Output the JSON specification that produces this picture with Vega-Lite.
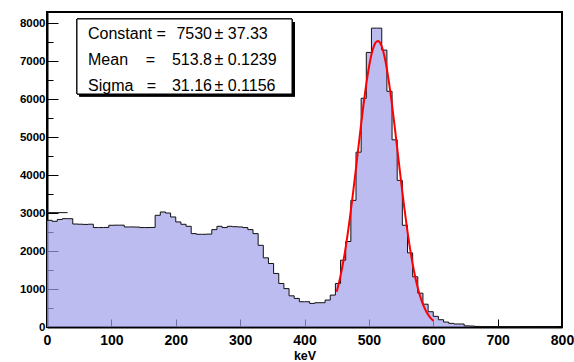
{
  "$schema": "https://vega.github.io/schema/vega-lite/v6.json",
  "width": 515,
  "height": 315,
  "autosize": {"type": "none"},
  "padding": {"left": 47, "top": 12, "right": 12, "bottom": 35},
  "background": "white",
  "config": {
    "view": {"stroke": "black", "strokeWidth": 2},
    "font": "Liberation Sans"
  },
  "datasets": {
    "hist": [
      {"keV": 0, "counts": 2808}, {"keV": 8, "counts": 2782}, {"keV": 16, "counts": 2830}, {"keV": 24, "counts": 2852}, {"keV": 32, "counts": 2850},
      {"keV": 40, "counts": 2710}, {"keV": 48, "counts": 2705}, {"keV": 56, "counts": 2700}, {"keV": 64, "counts": 2705}, {"keV": 72, "counts": 2617},
      {"keV": 80, "counts": 2617}, {"keV": 88, "counts": 2620}, {"keV": 96, "counts": 2677}, {"keV": 104, "counts": 2680}, {"keV": 112, "counts": 2680},
      {"keV": 120, "counts": 2633}, {"keV": 128, "counts": 2633}, {"keV": 136, "counts": 2630}, {"keV": 144, "counts": 2617}, {"keV": 152, "counts": 2617},
      {"keV": 160, "counts": 2620}, {"keV": 168, "counts": 2940}, {"keV": 176, "counts": 3027}, {"keV": 184, "counts": 3000}, {"keV": 192, "counts": 2896},
      {"keV": 200, "counts": 2765}, {"keV": 208, "counts": 2703}, {"keV": 216, "counts": 2650}, {"keV": 224, "counts": 2458}, {"keV": 232, "counts": 2440},
      {"keV": 240, "counts": 2440}, {"keV": 248, "counts": 2445}, {"keV": 256, "counts": 2563}, {"keV": 264, "counts": 2650}, {"keV": 272, "counts": 2617},
      {"keV": 280, "counts": 2650}, {"keV": 288, "counts": 2640}, {"keV": 296, "counts": 2633}, {"keV": 304, "counts": 2617}, {"keV": 312, "counts": 2563},
      {"keV": 320, "counts": 2458}, {"keV": 328, "counts": 2150}, {"keV": 336, "counts": 1820}, {"keV": 344, "counts": 1671}, {"keV": 352, "counts": 1409},
      {"keV": 360, "counts": 1146}, {"keV": 368, "counts": 1010}, {"keV": 376, "counts": 820}, {"keV": 384, "counts": 752}, {"keV": 392, "counts": 665},
      {"keV": 400, "counts": 665}, {"keV": 408, "counts": 621}, {"keV": 416, "counts": 639}, {"keV": 424, "counts": 639}, {"keV": 432, "counts": 709},
      {"keV": 440, "counts": 840}, {"keV": 448, "counts": 1146}, {"keV": 456, "counts": 1758}, {"keV": 464, "counts": 2250}, {"keV": 472, "counts": 3333},
      {"keV": 480, "counts": 4601}, {"keV": 488, "counts": 6019}, {"keV": 496, "counts": 7226}, {"keV": 504, "counts": 7865}, {"keV": 512, "counts": 7865},
      {"keV": 520, "counts": 7288}, {"keV": 528, "counts": 6203}, {"keV": 536, "counts": 4926}, {"keV": 544, "counts": 3858}, {"keV": 552, "counts": 2677},
      {"keV": 560, "counts": 1951}, {"keV": 568, "counts": 1321}, {"keV": 576, "counts": 890}, {"keV": 584, "counts": 600}, {"keV": 592, "counts": 402},
      {"keV": 600, "counts": 280}, {"keV": 608, "counts": 192}, {"keV": 616, "counts": 130}, {"keV": 624, "counts": 96}, {"keV": 632, "counts": 79},
      {"keV": 640, "counts": 79}, {"keV": 648, "counts": 30}, {"keV": 656, "counts": 26}, {"keV": 664, "counts": 15}, {"keV": 672, "counts": 12},
      {"keV": 680, "counts": 10}, {"keV": 688, "counts": 8}, {"keV": 696, "counts": 10}, {"keV": 704, "counts": 6}, {"keV": 712, "counts": 5},
      {"keV": 720, "counts": 4}, {"keV": 728, "counts": 5}, {"keV": 736, "counts": 3}, {"keV": 744, "counts": 2}, {"keV": 752, "counts": 1},
      {"keV": 760, "counts": 2}, {"keV": 768, "counts": 1}, {"keV": 776, "counts": 0}, {"keV": 784, "counts": 1}, {"keV": 792, "counts": 0}
    ],
    "edge": [
      {"lo": 0, "hi": 32, "counts": 3010}
    ],
    "fit": [
      {"keV": 450, "counts": 925.6}, {"keV": 455, "counts": 1269.2}, {"keV": 460, "counts": 1696.3}, {"keV": 465, "counts": 2209.2},
      {"keV": 470, "counts": 2803.8}, {"keV": 475, "counts": 3468.4}, {"keV": 480, "counts": 4181.3}, {"keV": 485, "counts": 4912.3},
      {"keV": 490, "counts": 5624.9}, {"keV": 495, "counts": 6276.9}, {"keV": 500, "counts": 6826.6}, {"keV": 505, "counts": 7235.7},
      {"keV": 510, "counts": 7474.2}, {"keV": 513.8, "counts": 7530}, {"keV": 515, "counts": 7524.4}, {"keV": 520, "counts": 7382.4},
      {"keV": 525, "counts": 7059.0}, {"keV": 530, "counts": 6578.1}, {"keV": 535, "counts": 5974.1}, {"keV": 540, "counts": 5288.0},
      {"keV": 545, "counts": 4561.4}, {"keV": 550, "counts": 3834.7}, {"keV": 555, "counts": 3141.7}, {"keV": 560, "counts": 2508.6},
      {"keV": 565, "counts": 1952.2}, {"keV": 570, "counts": 1480.7}, {"keV": 575, "counts": 1094.3}, {"keV": 580, "counts": 788.3},
      {"keV": 585, "counts": 553.4}, {"keV": 590, "counts": 378.7}, {"keV": 595, "counts": 252.5}, {"keV": 600, "counts": 164.1}
    ],
    "stats": [
      {"param": "Constant", "name": "Constant =", "value": "7530", "error": "± 37.33"},
      {"param": "Mean", "name": "Mean\u00a0\u00a0\u00a0\u00a0=", "value": "513.8", "error": "± 0.1239"},
      {"param": "Sigma", "name": "Sigma\u00a0\u00a0\u00a0=", "value": "31.16", "error": "± 0.1156"}
    ]
  },
  "layer": [
    {
      "data": {"name": "hist"},
      "mark": {"type": "area", "interpolate": "step-after", "color": "#a0a0ea", "line": {"color": "#111111", "strokeWidth": 1}},
      "encoding": {
        "x": {
          "field": "keV", "type": "quantitative",
          "scale": {"domain": [0, 800], "nice": false, "zero": false},
          "axis": {
            "values": [0, 50, 100, 150, 200, 250, 300, 350, 400, 450, 500, 550, 600, 650, 700, 750, 800],
            "labelExpr": "datum.value % 100 === 0 ? datum.label : ''",
            "tickSize": {"condition": {"test": "datum.value % 100 === 0", "value": -8}, "value": -4},
            "tickColor": "black", "tickWidth": 1,
            "domainColor": "black", "domainWidth": 2,
            "labelFont": "Liberation Sans", "labelFontWeight": "bold", "labelFontSize": 14, "labelColor": "black",
            "labelPadding": 14, "labelFlush": false, "labelOverlap": false,
            "grid": false,
            "title": "keV", "titleFont": "Liberation Sans", "titleFontWeight": "bold", "titleFontSize": 12.5, "titleColor": "black", "titlePadding": 2
          }
        },
        "y": {
          "field": "counts", "type": "quantitative", "stack": null,
          "scale": {"domain": [0, 8290], "nice": false},
          "axis": {
            "values": [0, 500, 1000, 1500, 2000, 2500, 3000, 3500, 4000, 4500, 5000, 5500, 6000, 6500, 7000, 7500, 8000],
            "labelExpr": "datum.value % 1000 === 0 ? datum.value : ''",
            "tickSize": {"condition": {"test": "datum.value % 1000 === 0", "value": -11}, "value": -6},
            "tickColor": "black", "tickWidth": 1,
            "domainColor": "black", "domainWidth": 2,
            "labelFont": "Liberation Sans", "labelFontWeight": "bold", "labelFontSize": 11.5, "labelColor": "black",
            "labelPadding": 13, "labelFlush": false, "labelOverlap": false,
            "grid": false, "title": null
          }
        }
      }
    },
    {
      "data": {"name": "edge"},
      "mark": {"type": "rule", "color": "#111111", "strokeWidth": 1},
      "encoding": {
        "x": {"field": "lo", "type": "quantitative"},
        "x2": {"field": "hi"},
        "y": {"field": "counts", "type": "quantitative", "scale": {"domain": [0, 8290], "nice": false}, "axis": null}
      }
    },
    {
      "data": {"name": "fit"},
      "mark": {"type": "line", "color": "#ff0000", "strokeWidth": 2, "interpolate": "monotone"},
      "encoding": {
        "x": {"field": "keV", "type": "quantitative"},
        "y": {"field": "counts", "type": "quantitative", "scale": {"domain": [0, 8290], "nice": false}, "axis": null}
      }
    },
    {
      "data": {"name": "stats"},
      "mark": {"type": "rect", "color": "black"},
      "encoding": {
        "x": {"datum": 50.2, "type": "quantitative"},
        "x2": {"datum": 385.1},
        "y": {"datum": 8027, "type": "quantitative", "scale": {"domain": [0, 8290], "nice": false}, "axis": null},
        "y2": {"datum": 6066}
      }
    },
    {
      "data": {"name": "stats"},
      "mark": {"type": "rect", "fill": "white", "stroke": "black", "strokeWidth": 1},
      "encoding": {
        "x": {"datum": 46.6, "type": "quantitative"},
        "x2": {"datum": 380.6},
        "y": {"datum": 8106, "type": "quantitative", "scale": {"domain": [0, 8290], "nice": false}, "axis": null},
        "y2": {"datum": 6132}
      }
    },
    {
      "data": {"name": "stats"},
      "mark": {"type": "text", "align": "left", "baseline": "alphabetic", "fontSize": 16, "font": "Liberation Sans", "color": "black"},
      "encoding": {
        "x": {"datum": 63.7, "type": "quantitative"},
        "y": {"field": "param", "type": "nominal", "sort": null, "scale": {"range": [27.3, 78.7], "padding": 0}, "axis": null},
        "text": {"field": "name"}
      }
    },
    {
      "data": {"name": "stats"},
      "mark": {"type": "text", "align": "right", "baseline": "alphabetic", "fontSize": 16, "font": "Liberation Sans", "color": "black"},
      "encoding": {
        "x": {"datum": 256.3, "type": "quantitative"},
        "y": {"field": "param", "type": "nominal", "sort": null, "scale": {"range": [27.3, 78.7], "padding": 0}, "axis": null},
        "text": {"field": "value"}
      }
    },
    {
      "data": {"name": "stats"},
      "mark": {"type": "text", "align": "left", "baseline": "alphabetic", "fontSize": 16, "font": "Liberation Sans", "color": "black"},
      "encoding": {
        "x": {"datum": 260.2, "type": "quantitative"},
        "y": {"field": "param", "type": "nominal", "sort": null, "scale": {"range": [27.3, 78.7], "padding": 0}, "axis": null},
        "text": {"field": "error"}
      }
    }
  ],
  "resolve": {"scale": {"y": "independent"}, "axis": {"y": "independent"}}
}
